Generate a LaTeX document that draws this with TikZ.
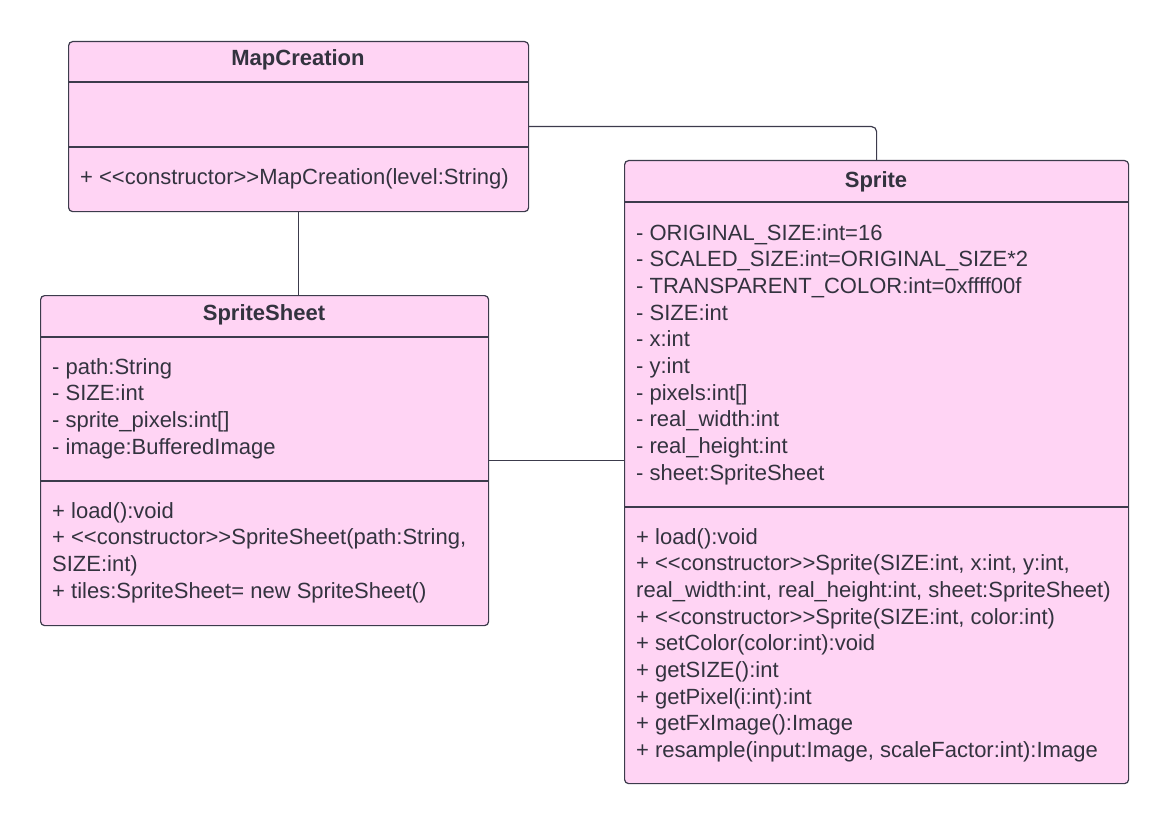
\documentclass[tikz,border=0pt]{standalone}
\usepackage{xcolor}
\usepackage{fontspec}
\setmainfont{Liberation Sans}
\usepackage{tikz}
\usetikzlibrary{positioning}

\definecolor{classfill}{HTML}{FFD4F4}
\definecolor{classline}{HTML}{3C3B4C}
\definecolor{classtext}{HTML}{33333F}
\newcommand{\ctor}{<\kern0pt<constructor>\kern0pt>}

\begin{document}
\begin{tikzpicture}[x=1pt, y=-1pt,
  class/.style={draw=classline, fill=classfill, line width=1.2pt, rounded corners=4pt,
                anchor=north west, inner sep=0pt},
  classname/.style={anchor=base, inner sep=0pt, text=classtext,
                    font=\bfseries\fontsize{22}{26.7}\selectfont},
  members/.style={anchor=base west, inner sep=0pt, align=left, text=classtext,
                  font=\fontsize{22}{26.7}\selectfont},
  sep/.style={draw=classline, line width=1.2pt},
  assoc/.style={draw=classline, line width=1.2pt, rounded corners=5pt}]
\useasboundingbox (0,0) rectangle (1168,824);

% boxes
\node[class, minimum width=460pt, minimum height=170pt](mc) at (68,41)  {};
\node[class, minimum width=448pt, minimum height=330pt](ss) at (40,295) {};
\node[class, minimum width=504pt, minimum height=623pt](sp) at (624,160){};

% MapCreation (members anchored on their last line)
\node[classname](mcname) at (298,66) {MapCreation};
\draw[sep] (68,82)  -- (528,82);
\draw[sep] (68,147) -- (528,147);
\node[members](mcops) at (80,185) {+ \ctor MapCreation(level:String)};

% SpriteSheet
\node[classname](ssname) at (264,320) {SpriteSheet};
\draw[sep] (40,337) -- (488,337);
\draw[sep] (40,481) -- (488,481);
\node[members](ssattr) at (52,454.1) {- path:String\\
- SIZE:int\\
- sprite\_pixels:int[]\\
- image:BufferedImage};
\node[members](ssops) at (52,598.1) {+ load():void\\
+ \ctor SpriteSheet(path:String,\\
SIZE:int)\\
+ tiles:SpriteSheet= new SpriteSheet()};

% Sprite
\node[classname](spname) at (876,187) {Sprite};
\draw[sep] (624,202) -- (1128,202);
\draw[sep] (624,507) -- (1128,507);
\node[members](spattr) at (636,480.3) {- ORIGINAL\_SIZE:int=16\\
- SCALED\_SIZE:int=ORIGINAL\_SIZE*2\\
- TRANSPARENT\_COLOR:int=0xffff00f\\
- SIZE:int\\
- x:int\\
- y:int\\
- pixels:int[]\\
- real\_width:int\\
- real\_height:int\\
- sheet:SpriteSheet};
\node[members](spops) at (636,757.6) {+ load():void\\
+ \ctor Sprite(SIZE:int, x:int, y:int,\\
real\_width:int, real\_height:int, sheet:SpriteSheet)\\
+ \ctor Sprite(SIZE:int, color:int)\\
+ setColor(color:int):void\\
+ getSIZE():int\\
+ getPixel(i:int):int\\
+ getFxImage():Image\\
+ resample(input:Image, scaleFactor:int):Image};

% associations
\draw[assoc] (mc.south) -- (mc.south |- ss.north);
\draw[assoc] (mc.east) -| (sp.north);
\draw[assoc] (ss.east) -- (ss.east -| sp.west);
\end{tikzpicture}
\end{document}
